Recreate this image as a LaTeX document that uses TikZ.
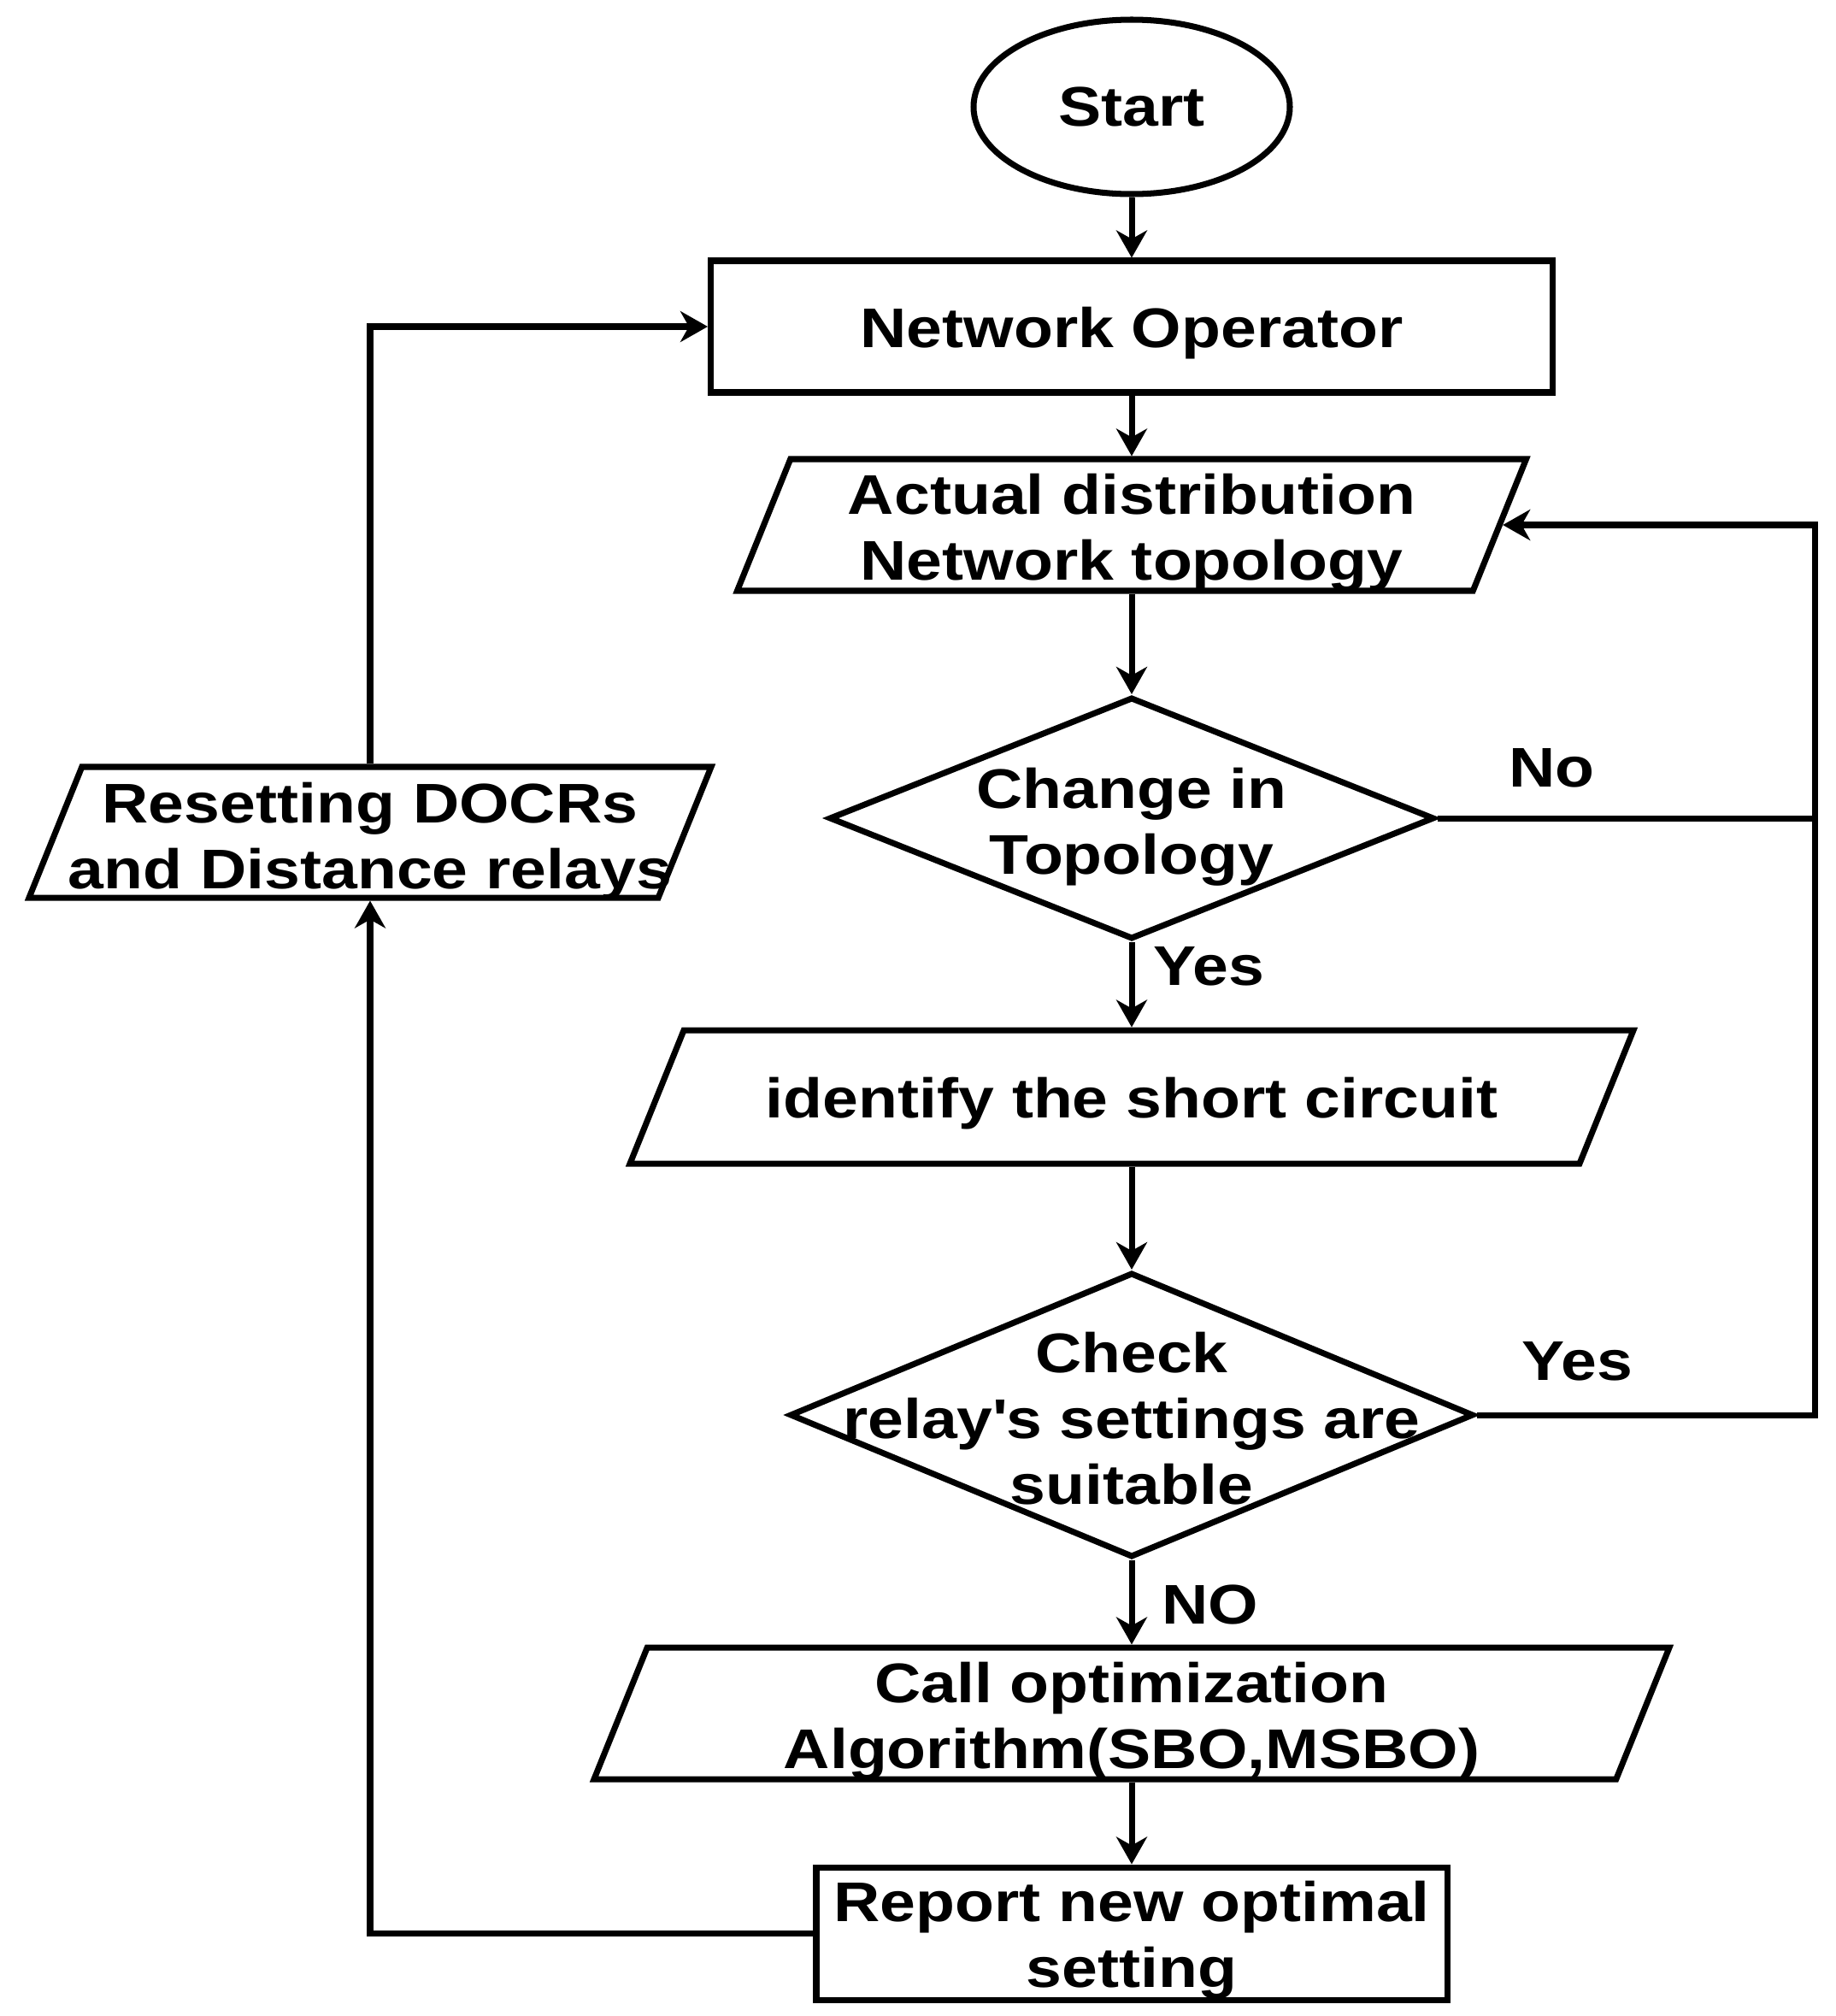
\documentclass[tikz,border=0pt]{standalone}
\usepackage{fontspec}
\setmainfont{Liberation Sans}[FakeStretch=1.15]
\usepackage{tikz}
\usetikzlibrary{positioning, shapes.geometric, arrows, arrows.meta}

\begin{document}
\begin{tikzpicture}[
        font=\fontsize{18.6}{21.9}\selectfont\bfseries,
        line width=2pt,
        arr/.style={-{Stealth[length=0.32cm, width=0.36cm, inset=0.1cm]}},
        box/.style={draw, rectangle, inner sep=0pt, align=center},
        io/.style={draw, trapezium, trapezium left angle=68, trapezium right angle=112,
            trapezium stretches body, inner sep=0pt},
        dec/.style={draw, diamond, inner sep=0pt},
        txt/.style={inner sep=0pt, align=center}
    ]
            \useasboundingbox (0, 0) rectangle (21.48, -23.58);

            \node [draw, ellipse, minimum width=3.7cm, minimum height=2.04cm, inner sep=0pt] (Start) at (13.24, -1.25) {Start};

            \node [box, minimum width=9.85cm, minimum height=1.54cm] (Op) at (13.24, -3.82) {};
            \node [txt] (OpT) at (13.24, -3.9) {Network Operator};

            \node [io, minimum width=9.23cm] (Topo) at (13.24, -6.14) {\rule{0pt}{1.54cm}};
            \node [txt] (TopoT) at (13.24, -6.23) {Actual distribution\\Network topology};

            \node [dec, minimum width=7.08cm, minimum height=2.83cm] (Chg) at (13.24, -9.57) {};
            \node [txt] (ChgT) at (13.24, -9.675) {Change in\\Topology};

            \node [io, minimum width=11.74cm] (Sc) at (13.24, -12.83) {\rule{0pt}{1.56cm}};
            \node [txt] (ScT) at (13.24, -12.91) {identify the short circuit};

            \node [dec, minimum width=8cm, minimum height=3.33cm] (Chk) at (13.24, -16.55) {};
            \node [txt] (ChkT) at (13.24, -16.59) {Check\\relay\textquotesingle s settings are\\suitable};

            \node [io, minimum width=12.58cm] (Opt) at (13.24, -20.04) {\rule{0pt}{1.54cm}};
            \node [txt] (OptT) at (13.24, -20.13) {Call optimization\\Algorithm(SBO,MSBO)};

            \node [box, minimum width=7.38cm, minimum height=1.55cm] (Rep) at (13.24, -22.615) {};
            \node [txt] (RepT) at (13.24, -22.69) {Report new optimal\\setting};

            \node [io, minimum width=7.98cm] (Rst) at (4.33, -9.735) {\rule{0pt}{1.53cm}};
            \node [txt] (RstT) at (4.33, -9.84) {Resetting DOCRs\\and Distance relays};

            \node (NoA) at (18.155, -8.98) {No};
            \node (YesA) at (14.145, -11.3) {Yes};
            \node (YesB) at (18.45, -15.92) {Yes};
            \node (NoB) at (14.16, -18.77) {NO};

            \draw [arr] (Start) -- (Op);
            \draw [arr] (Op) -- (Topo);
            \draw [arr] (Topo) -- (Chg);
            \draw [arr] (Chg) -- (Sc);
            \draw [arr] (Sc) -- (Chk);
            \draw [arr] (Chk) -- (Opt);
            \draw [arr] (Opt) -- (Rep);

            \coordinate (Rline) at (21.23, 0);
            \draw [arr] (Chg.east) -- (Chg.east -| Rline) |- (Topo.east);
            \draw (Chk.east) -| (Chg.east -| Rline);
            \draw [arr] (Rep.west) -| (Rst.south);
            \draw [arr] (Rst.north) |- (Op.west);
        \end{tikzpicture}
\end{document}
